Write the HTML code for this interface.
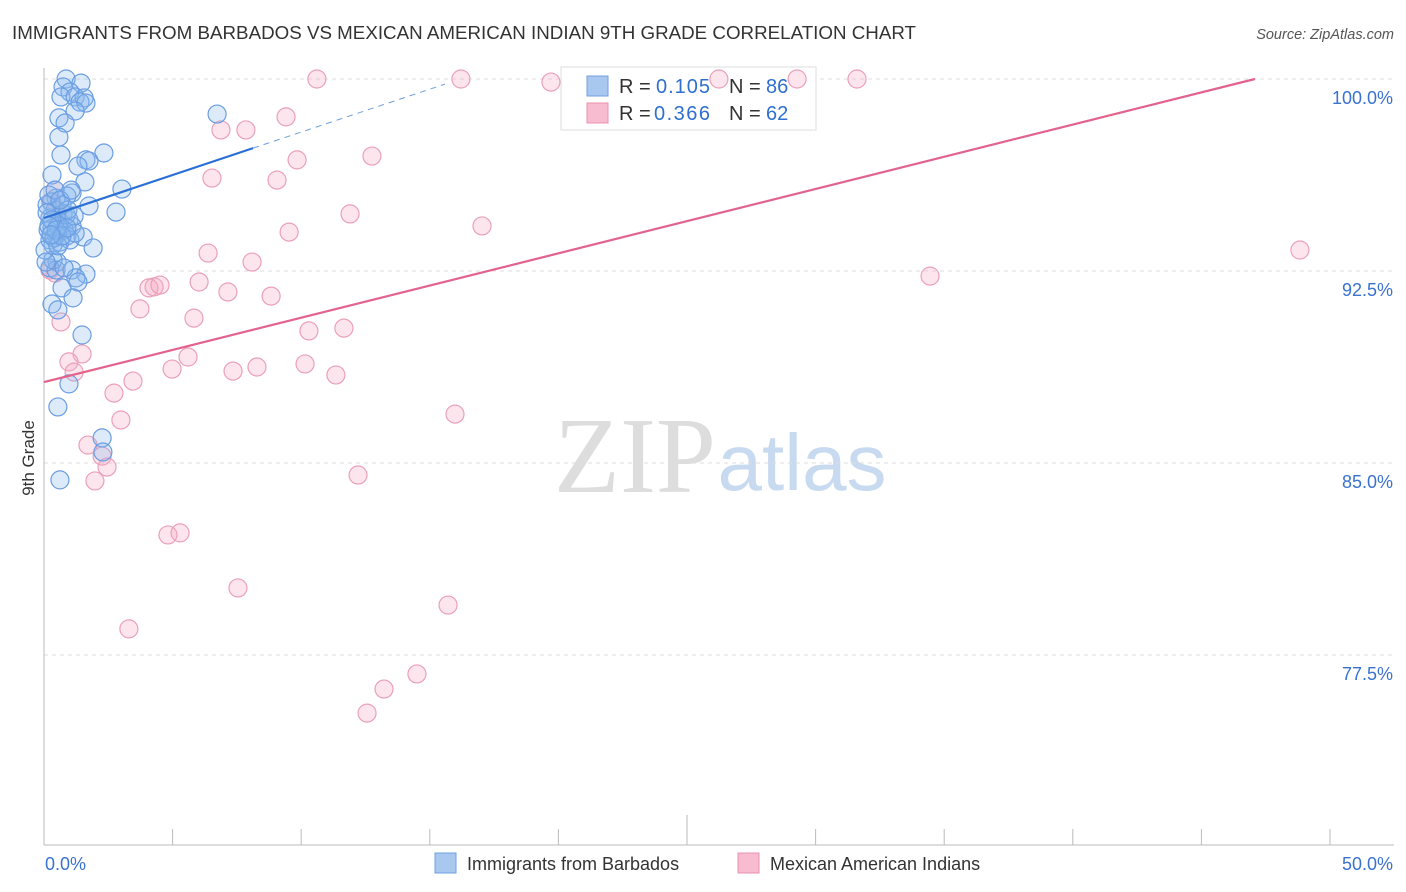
<!DOCTYPE html>
<html><head><meta charset="utf-8"><style>
body{margin:0;background:#fff;font-family:"Liberation Sans",sans-serif;}
svg{display:block}
</style></head><body>
<svg id="c" width="1406" height="892" xmlns="http://www.w3.org/2000/svg">
<text x="12" y="39" font-size="18" textLength="904" lengthAdjust="spacingAndGlyphs" fill="#333">IMMIGRANTS FROM BARBADOS VS MEXICAN AMERICAN INDIAN 9TH GRADE CORRELATION CHART</text>
<text x="1394" y="39" font-size="14.5" fill="#555" font-style="italic" text-anchor="end">Source: ZipAtlas.com</text>
<text x="0" y="0" transform="translate(34,458) rotate(-90)" font-size="17" fill="#333" text-anchor="middle">9th Grade</text>
<g><text x="635" y="492" font-size="108" font-family="Liberation Serif,serif" fill="#ddd" text-anchor="middle">ZIP</text><text x="802" y="490" font-size="80" fill="#c8daf0" text-anchor="middle">atlas</text></g>
<g id="grid"></g>
<g>
<rect x="561" y="67" width="255" height="63" fill="#fff" stroke="#ddd"/>
<rect x="587" y="76" width="21" height="20" fill="#a8c8f0" stroke="#6f9fe0"/>
<rect x="587" y="103" width="21" height="20" fill="#f7bcd0" stroke="#e890aa"/>
<text x="619" y="93" font-size="20" fill="#333">R =</text><text x="656" y="93" font-size="20" fill="#2f6fd0" textLength="54">0.105</text>
<text x="729" y="93" font-size="20" fill="#333">N =</text><text x="766" y="93" font-size="20" fill="#2f6fd0">86</text>
<text x="619" y="120" font-size="20" fill="#333">R =</text><text x="654" y="120" font-size="20" fill="#2f6fd0" textLength="56">0.366</text>
<text x="729" y="120" font-size="20" fill="#333">N =</text><text x="766" y="120" font-size="20" fill="#2f6fd0">62</text>
</g>
<g id="pts"></g><g id="lines"></g>
<g>
<rect x="435" y="853" width="21" height="20" fill="#a8c8f0" stroke="#6f9fe0"/>
<text x="467" y="870" font-size="18" fill="#333">Immigrants from Barbados</text>
<rect x="738" y="853" width="21" height="20" fill="#f7bcd0" stroke="#e890aa"/>
<text x="770" y="870" font-size="18" fill="#333">Mexican American Indians</text>
</g>
</svg>
<script>
const yTicks=[100,92.5,85,77.5];
const yTickLabels=["100.0%","92.5%","85.0%","77.5%"];
const xTickLabels=["0.0%","50.0%"];
const blueX=[0.86,1.44,0.74,1.01,0.66,1.21,1.56,1.40,1.63,1.21,0.58,0.82,6.73,0.58,0.66,2.33,1.63,1.75,1.32,0.31,1.59,3.03,1.09,0.89,0.47,0.27,1.75,2.80,0.43,0.74,0.23,0.97,0.62,1.09,0.31,0.78,0.47,0.89,1.52,0.23,0.62,1.91,0.35,0.51,0.23,0.47,1.09,1.63,1.24,1.32,0.70,1.13,0.31,0.54,1.48,0.97,0.54,2.26,2.29,0.62,0.12,0.16,0.39,0.54,0.86,0.70,0.19,1.01,1.21,0.35,0.04,0.78,0.12,0.31,0.54,0.93,1.17,0.08,0.43,0.62,1.05,0.19,0.47,0.70,0.89,0.27];
const blueY=[100,99.84,99.69,99.49,99.30,99.30,99.26,99.10,99.06,98.75,98.48,98.28,98.63,97.73,97.03,97.11,96.84,96.80,96.60,96.25,95.98,95.70,95.55,95.43,95.35,95.20,95.04,94.80,94.88,94.73,94.57,94.49,94.41,94.26,94.18,94.10,93.91,93.87,93.83,93.71,93.63,93.40,93.52,92.85,92.62,92.54,92.54,92.38,92.23,92.07,91.84,91.45,91.21,90.98,90.00,88.09,87.19,85.98,85.43,84.34,95.08,94.10,93.79,94.26,94.69,95.08,95.47,93.71,93.98,92.93,93.32,92.62,94.77,94.49,93.48,94.88,94.65,92.85,95.66,95.27,95.66,94.26,94.10,93.87,94.18,93.91];
const pinkX=[10.61,16.21,19.71,26.24,29.28,31.61,9.41,6.88,7.85,12.75,9.84,6.53,9.06,0.43,11.90,17.03,9.53,6.38,8.09,48.83,34.45,6.03,4.28,4.08,4.51,7.15,8.83,3.73,5.83,0.66,10.30,11.66,1.48,0.97,5.60,4.98,7.35,8.28,10.15,11.35,1.17,3.46,2.72,15.98,2.99,1.71,2.26,2.45,1.98,12.21,4.82,5.29,7.54,15.71,3.30,14.50,13.22,12.56,0.43,0.23,0.3,0.5];
const pinkY=[100,100,99.88,100,100,100,98.52,98.01,98.01,96.99,96.84,96.13,96.05,95.66,94.73,94.26,94.02,93.20,92.85,93.32,92.30,92.07,91.88,91.84,91.95,91.68,91.52,91.02,90.66,90.51,90.16,90.27,89.26,88.95,89.14,88.67,88.59,88.75,88.87,88.44,88.55,88.20,87.73,86.91,86.68,85.70,85.27,84.84,84.30,84.53,82.19,82.27,80.12,79.45,78.52,76.76,76.17,75.23,92.42,92.54,95.2,94.9];
const blueTrend=[[0,94.57],[8.13,97.30]];
const blueDash=[[8.13,97.30],[15.59,99.8]];
const pinkTrend=[[0,88.16],[47.08,100]];
const X=v=>44+v*25.72, Y=v=>79+(100-v)*25.6;
const NS="http://www.w3.org/2000/svg";
function mk(p,tag,a){const e=document.createElementNS(NS,tag);for(const k in a)e.setAttribute(k,a[k]);p.appendChild(e);return e;}
const g=document.getElementById('grid');
yTicks.forEach((t,i)=>{
 const l=mk(g,'line',{x1:44,x2:1394,y1:Y(t),y2:Y(t),stroke:'#ddd','stroke-dasharray':'4,4'});
 
 
 const tx=mk(g,'text',{x:1393,y:Y(t)+25,'font-size':18,fill:'#3a72d0','text-anchor':'end'});tx.textContent=yTickLabels[i];
 
 
});
const ax=mk(g,'line',{x1:44,x2:1394,y1:845,y2:845,stroke:'#bbb'});


const ay=mk(g,'line',{x1:44,x2:44,y1:68,y2:845,stroke:'#bbb'});


for(let v=5;v<=50;v+=5){const t=mk(g,'line',{x1:X(v),x2:X(v),y1:v==25?815:829,y2:845,stroke:'#bbb'});
 
 }
[[0,'start'],[50,'end']].forEach((p,i)=>{const t=mk(g,'text',{x:i?1393:45,y:870,'font-size':18,fill:'#3a72d0','text-anchor':p[1]});t.textContent=xTickLabels[i];
 
 });
const pg=document.getElementById('pts');
pinkX.forEach((x,i)=>{const c=mk(pg,'circle',{cx:X(x),cy:Y(pinkY[i]),r:9,fill:'rgba(247,170,195,0.3)',stroke:'#eaa0b8','stroke-width':1.2});
 
 });
blueX.forEach((x,i)=>{const c=mk(pg,'circle',{cx:X(x),cy:Y(blueY[i]),r:9,fill:'rgba(140,185,240,0.3)',stroke:'#6a9de2','stroke-width':1.2});
 
 });
const lg=document.getElementById('lines');
let l1=mk(lg,'line',{x1:X(blueTrend[0][0]),y1:Y(blueTrend[0][1]),x2:X(blueTrend[1][0]),y2:Y(blueTrend[1][1]),stroke:'#2a6fd6','stroke-width':2.2});


let l2=mk(lg,'line',{x1:X(blueDash[0][0]),y1:Y(blueDash[0][1]),x2:X(blueDash[1][0]),y2:Y(blueDash[1][1]),stroke:'#6f9fe0','stroke-width':1,'stroke-dasharray':'6,5'});


let l3=mk(lg,'line',{x1:X(pinkTrend[0][0]),y1:Y(pinkTrend[0][1]),x2:X(pinkTrend[1][0]),y2:Y(pinkTrend[1][1]),stroke:'#e3628c','stroke-width':2.2});


</script>
</body></html>
